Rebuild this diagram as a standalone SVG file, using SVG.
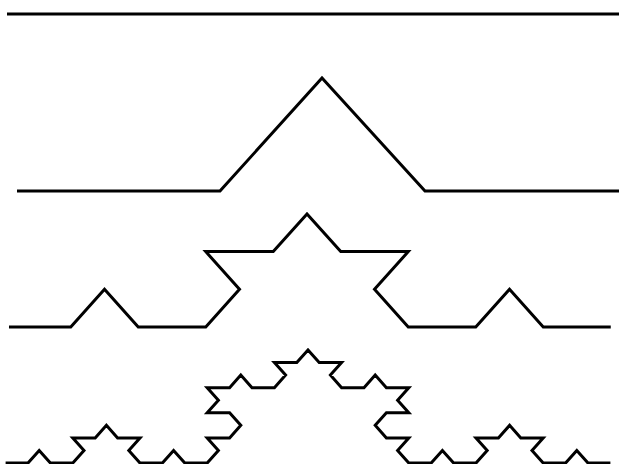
<svg xmlns="http://www.w3.org/2000/svg" width="619" height="464" viewBox="0 0 619 464">
<style>
.k{fill:none;stroke:#000;stroke-width:3;stroke-linejoin:miter;stroke-miterlimit:4;vector-effect:non-scaling-stroke}
</style>
<rect width="619" height="464" fill="#fff"/>
<g id="level0"><polyline class="k" points="7,14 625,14"/></g>
<g id="level1"><polyline class="k" points="17,191 220,191 322,78 425,191 625,191"/></g>
<g id="level2" transform="translate(3.25,327) scale(67.5,-37.7)"><polyline class="k" points="0.085,0 1,0 1.5,1 2,0 3,0 3.5,1 3,2 4,2 4.5,3 5,2 6,2 5.5,1 6,0 7,0 7.5,1 8,0 9,0"/></g>
<g id="level3" transform="translate(5.6,463) scale(22.4,-12.56)"><polyline class="k" points="0,0 1,0 1.5,1 2,0 3,0 3.5,1 3,2 4,2 4.5,3 5,2 6,2 5.5,1 6,0 7,0 7.5,1 8,0 9,0 9.5,1 9,2 10,2 10.5,3 10,4 9,4 9.5,5 9,6 10,6 10.5,7 11,6 12,6 12.5,7 12,8 13,8 13.5,9 14,8 15,8 14.5,7 15,6 16,6 16.5,7 17,6 18,6 17.5,5 18,4 17,4 16.5,3 17,2 18,2 17.5,1 18,0 19,0 19.5,1 20,0 21,0 21.5,1 21,2 22,2 22.5,3 23,2 24,2 23.5,1 24,0 25,0 25.5,1 26,0 27,0"/></g>
</svg>
